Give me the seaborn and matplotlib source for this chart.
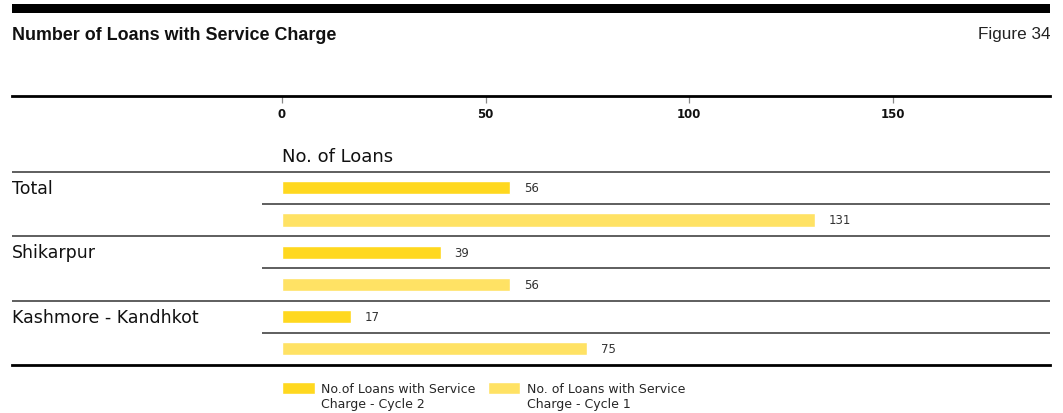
import matplotlib
matplotlib.use("Agg")
import matplotlib.pyplot as plt
import seaborn as sns
import pandas as pd
from matplotlib.patches import Rectangle
from matplotlib.legend_handler import HandlerPatch

regions = ["Total", "Shikarpur", "Kashmore - Kandhkot"]
cycle2 = [56, 39, 17]
cycle1 = [131, 56, 75]
series_names = ["No.of Loans with Service\nCharge - Cycle 2",
                "No. of Loans with Service\nCharge - Cycle 1"]
colors = ["#FFD81F", "#FFE264"]
xticks = [0, 50, 100, 150]
title = "Number of Loans with Service Charge"
fig_label = "Figure 34"
axis_title = "No. of Loans"

rows = []
order = []
for r, v2, v1 in zip(regions, cycle2, cycle1):
    rows.append({"slot": r + "|2", "value": v2, "series": series_names[0]})
    rows.append({"slot": r + "|1", "value": v1, "series": series_names[1]})
    order += [r + "|2", r + "|1"]
df = pd.DataFrame(rows)

sns.set_theme(style="white")
plt.rcParams["font.family"] = ["DejaVu Sans"]

W, H = 1063, 414
fig = plt.figure(figsize=(W / 100, H / 100), dpi=100)
ax = fig.add_axes([12 / W, 1 - 366 / H, (1050 - 12) / W, (366 - 97) / H])

sns.barplot(data=df, y="slot", x="value", hue="series", order=order,
            hue_order=series_names, palette=colors, dodge=False, width=0.41,
            orient="h", ax=ax, saturation=1, legend=True)

ppu = 4.07
ax.set_xlim(-(282 - 12) / ppu, (1050 - 282) / ppu)
ax.set_ylim(5.5, -0.5 - (172 - 97) / 32)
ax.set_xlabel("")
ax.set_ylabel("")
ax.set_yticks([])
ax.xaxis.tick_top()
ax.set_xticks(xticks)
ax.set_xticklabels([str(t) for t in xticks], fontsize=8.5, fontweight="bold", color="#111111")
ax.tick_params(axis="x", top=True, bottom=False, direction="in", length=5, width=0.9,
               color="#888888", pad=-17.5)
for s in ["left", "right"]:
    ax.spines[s].set_visible(False)
for s in ["top", "bottom"]:
    ax.spines[s].set_linewidth(2)
    ax.spines[s].set_color("black")

for c in ax.containers:
    ax.bar_label(c, padding=10, fontsize=8.5, color="#333333")

# separators
for y in [-0.5, 1.5, 3.5]:
    ax.axhline(y, color="#333333", lw=1.1)
xstart = (262 - 282) / ppu
for y in [0.5, 2.5, 4.5]:
    ax.hlines(y, xstart, ax.get_xlim()[1], color="#333333", lw=1.1)

for i, r in enumerate(regions):
    ax.text(0.0, 2 * i, r, transform=ax.get_yaxis_transform(), fontsize=12.5,
            va="center", ha="left", color="#111111")

ax.text(0, -0.97, axis_title, fontsize=13, va="center", ha="left", color="#111111")


def top_patch(legend, orig_handle, xdescent, ydescent, width, height, fontsize):
    h = 0.95 * fontsize
    return Rectangle((-xdescent, -ydescent + height - h + 0.4 * fontsize), width, h)


handles, labels = ax.get_legend_handles_labels()
ax.legend(handles, labels, loc="upper left", bbox_to_anchor=(282 / W, 1 - 383 / H),
          bbox_transform=fig.transFigure, ncol=2, frameon=False, fontsize=9,
          handlelength=2.6, handleheight=2.1, handletextpad=0.55, columnspacing=0.95,
          borderpad=0, borderaxespad=0, labelspacing=0.2,
          handler_map={h: HandlerPatch(patch_func=top_patch) for h in handles})

# header
fig.add_artist(Rectangle((12 / W, 1 - 14 / H), (1050 - 12) / W, 9 / H,
                         transform=fig.transFigure, color="black", lw=0))
fig.text(12 / W, 1 - 35 / H, title, fontsize=12.9, fontweight="bold", va="center", ha="left",
         color="#111111", family="Liberation Sans")
fig.text(1050 / W, 1 - 34 / H, fig_label, fontsize=12.3, va="center", ha="right",
         color="#222222", family="Liberation Sans")

fig.savefig("out.png", dpi=100)
